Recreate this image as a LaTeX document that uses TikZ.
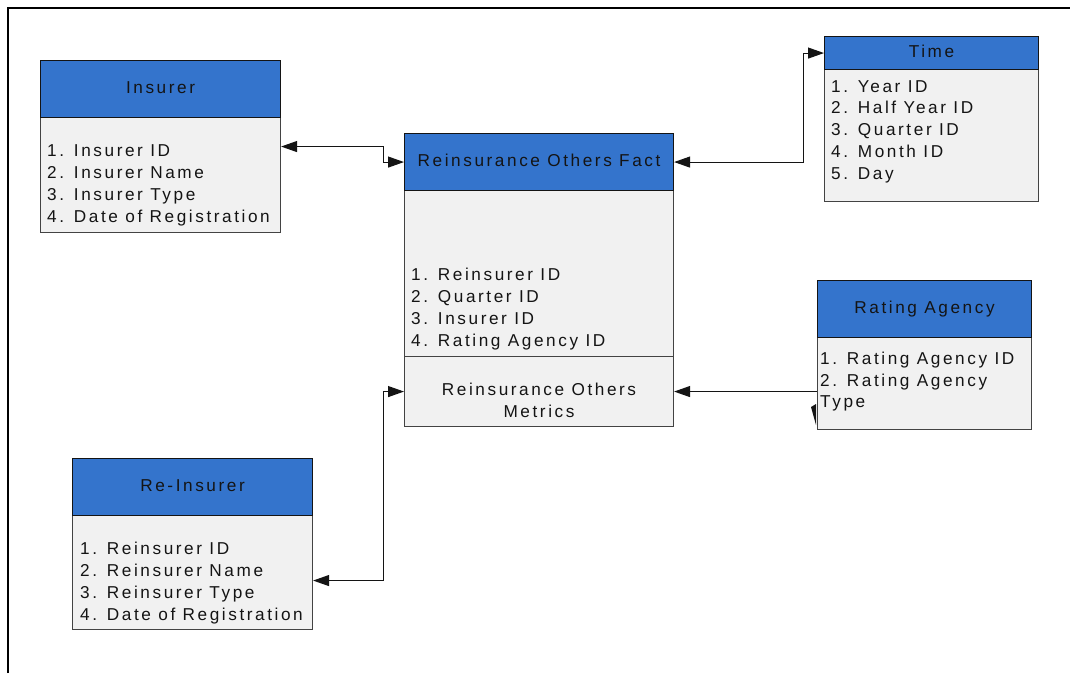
\documentclass[tikz,border=0pt]{standalone}
\usepackage{fontspec}
\setmainfont{Liberation Sans}[LetterSpace=15]
\usetikzlibrary{arrows.meta,calc}

\definecolor{hdrblue}{HTML}{3474CC}
\definecolor{bodygray}{HTML}{F1F1F1}
\definecolor{ink}{HTML}{141414}

\tikzset{
  hdr/.style={draw=ink, line width=1.1pt, fill=hdrblue, anchor=north west,
    inner sep=0pt, text=ink, text height=12pt, text depth=3.5pt},
  bodybox/.style={draw=ink!80, line width=1.1pt, fill=bodygray, anchor=north west, inner sep=0pt},
  item/.style={anchor=base west, inner sep=0pt, text=ink},
  link/.style={draw=ink, line width=1.1pt,
    {Triangle[length=16pt,width=11pt]}-{Triangle[length=16pt,width=11pt]}},
  onearrow/.style={draw=ink, line width=1.1pt, -{Triangle[length=16pt,width=11pt]}},
}

\begin{document}
\begin{tikzpicture}[x=1pt, y=-1pt, font=\fontsize{17.2}{22}\selectfont]
\useasboundingbox (0,0) rectangle (1070,673);
\fill[white] (0,0) rectangle (1070,673);

% outer frame (top and left edges)
\draw[line width=2pt, black] (8,673) -- (8,8) -- (1070,8);

% ---------- Insurer ----------
\node[bodybox, minimum width=240pt, minimum height=115pt] (ins-b) at (40,117) {};
\node[hdr, minimum width=240pt, minimum height=57pt] (ins-h) at (40,60) {Insurer};
\foreach \t [count=\i] in {Insurer ID, Insurer Name, Insurer Type, Date of Registration}
  \node[item, name=ins-l\i] at (47,{156+22*(\i-1)}) {\i. \t};

% ---------- Fact table ----------
\node[bodybox, minimum width=269pt, minimum height=166pt] (fact-b) at (404,190) {};
\node[bodybox, minimum width=269pt, minimum height=70pt] (fact-m) at (404,356) {};
\node[hdr, minimum width=269pt, minimum height=57pt] (fact-h) at (404,133) {Reinsurance Others Fact};
\foreach \t [count=\i] in {Reinsurer ID, Quarter ID, Insurer ID, Rating Agency ID}
  \node[item, name=fact-l\i] at (411,{280+22*(\i-1)}) {\i. \t};
\node[align=center, inner sep=0pt, text=ink] (fact-mt) at (539,400.5)
  {Reinsurance Others\\Metrics};

% ---------- Time ----------
\node[bodybox, minimum width=214pt, minimum height=132pt] (time-b) at (824,69) {};
\node[hdr, minimum width=214pt, minimum height=33pt] (time-h) at (824,36) {Time};
\foreach \t [count=\i] in {Year ID, Half Year ID, Quarter ID, Month ID, Day}
  \node[item, name=time-l\i] at (831,{92+21.75*(\i-1)}) {\i. \t};

% ---------- Rating Agency ----------
\node[bodybox, minimum width=214pt, minimum height=92pt] (rat-b) at (817,337) {};
\node[hdr, minimum width=214pt, minimum height=57pt] (rat-h) at (817,280) {Rating Agency};
\node[item] (rat-l1) at (820,364) {1. Rating Agency ID};
\node[item] (rat-l2) at (820,386) {2. Rating Agency};
\node[item] (rat-l3) at (820,407) {Type};

% ---------- Re-Insurer ----------
\node[bodybox, minimum width=240pt, minimum height=114pt] (re-b) at (72,515) {};
\node[hdr, minimum width=240pt, minimum height=57pt] (re-h) at (72,458) {Re-Insurer};
\foreach \t [count=\i] in {Reinsurer ID, Reinsurer Name, Reinsurer Type, Date of Registration}
  \node[item, name=re-l\i] at (80,{554+22*(\i-1)}) {\i. \t};

% ---------- connectors ----------
\draw[link] ([yshift=28.5pt]ins-b.east) -- ++(102,0) |- (fact-h.west);
\draw[link] (fact-h.east) -- ++(129,0) |- (time-h.west);
\draw[onearrow] (rat-b.west |- fact-m.east) -- (fact-m.east);
\draw[link] ([yshift=-8pt]re-b.east) -- ++(70,0) |- (fact-m.west);

% small stray arrow tip on the Rating Agency box edge
\fill[ink] (811,407) -- (816,404) -- (816,425) -- cycle;
\end{tikzpicture}
\end{document}
